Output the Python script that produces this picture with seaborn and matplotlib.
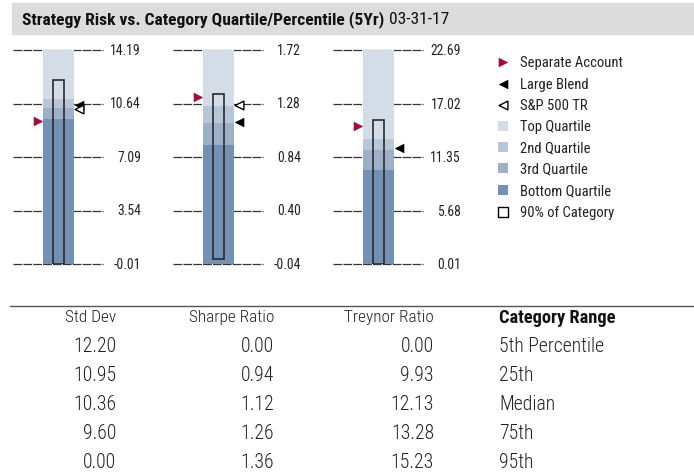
import numpy as np
import pandas as pd
import matplotlib
matplotlib.use("Agg")
import matplotlib.pyplot as plt
import seaborn as sns
from matplotlib import font_manager as fm
from matplotlib.patches import Rectangle

# --- data ------------------------------------------------------------------
metrics = ["Std Dev", "Sharpe Ratio", "Treynor Ratio"]
axis_ticks = [
    [-0.01, 3.54, 7.09, 10.64, 14.19],
    [-0.04, 0.40, 0.84, 1.28, 1.72],
    [0.01, 5.68, 11.35, 17.02, 22.69],
]
pct_5th = [12.20, 0.00, 0.00]
pct_25th = [10.95, 0.94, 9.93]
pct_median = [10.36, 1.12, 12.13]
pct_75th = [9.60, 1.26, 13.28]
pct_95th = [0.00, 1.36, 15.23]
separate_account = [9.46, 1.33, 14.64]
large_blend = [10.52, 1.13, 12.27]
sp500_tr = [10.25, 1.27, np.nan]
range_labels = ["5th Percentile", "25th", "Median", "75th", "95th"]

# colours
quartile_colors = ["#7391B4", "#9EB0C8", "#B9C6D7", "#D4DCE7"]  # bottom -> top
quartile_names = ["Bottom Quartile", "3rd Quartile", "2nd Quartile", "Top Quartile"]
red = "#A50B3C"

# --- font: prefer something condensed like the original -------------------
names = {f.name for f in fm.fontManager.ttflist}
STRETCH = "normal"
if "Roboto Condensed" in names:
    FAMILY = "Roboto Condensed"
elif "Liberation Sans Narrow" in names:
    FAMILY = "Liberation Sans Narrow"
elif any(f.name == "DejaVu Sans" and f.stretch == "condensed" for f in fm.fontManager.ttflist):
    FAMILY = "DejaVu Sans"
    STRETCH = "condensed"
else:
    FAMILY = "Liberation Sans"

sns.set_theme(style="white")
plt.rcParams["font.family"] = [FAMILY, "DejaVu Sans"]
plt.rcParams["font.stretch"] = STRETCH
TXT = "#222222"

W, H = 694, 477
fig = plt.figure(figsize=(W / 100, H / 100), dpi=100)


def px_axes(left, top, width, height):
    return fig.add_axes([left / W, 1 - (top + height) / H, width / W, height / H])


markers = pd.DataFrame({
    "metric": metrics,
    "Separate Account": separate_account,
    "Large Blend": large_blend,
    "S&P 500 TR": sp500_tr,
})

for i, m in enumerate(metrics):
    ax = px_axes(13 + 160 * i, 51, 90, 214)
    lo, hi = axis_ticks[i][0], axis_ticks[i][-1]
    ax.set_xlim(0, 90)
    ax.set_ylim(lo, hi)
    ax.axis("off")

    # dashed gridlines + tick labels on the right
    for t in axis_ticks[i]:
        ax.axhline(t, color="#333333", lw=0.9, dashes=(7, 0.9), zorder=1, clip_on=False)
        ax.text(128, t, f"{t:.2f}", ha="right", va="center", fontsize=9.8,
                color=TXT, clip_on=False)

    # quartile bands
    b = sorted([pct_25th[i], pct_median[i], pct_75th[i]])
    bounds = [lo] + b + [hi]
    for k in range(4):
        ax.bar(45, bounds[k + 1] - bounds[k], bottom=bounds[k], width=31,
               color=quartile_colors[k], linewidth=0, zorder=2)

    # 90% of category box
    p_lo, p_hi = sorted([pct_5th[i], pct_95th[i]])
    ax.bar(45, p_hi - p_lo, bottom=p_lo, width=11, fill=False,
           edgecolor="#2a2a2a", linewidth=1.2, zorder=3)

    row = markers[markers["metric"] == m]
    sns.scatterplot(x=[24.5], y=row["Separate Account"], marker=">", s=48,
                    color=red, linewidth=0, ax=ax, legend=False, zorder=5, clip_on=False)
    sns.scatterplot(x=[66], y=row["Large Blend"], marker="<", s=48,
                    color="black", linewidth=0, ax=ax, legend=False, zorder=5, clip_on=False)
    if row["S&P 500 TR"].notna().all():
        sns.scatterplot(x=[66], y=row["S&P 500 TR"], marker="<", s=40,
                        color="white", edgecolor="black", linewidth=1, ax=ax,
                        legend=False, zorder=5, clip_on=False)

# --- overlay in pixel coordinates: title, legend, table -------------------
ov = fig.add_axes([0, 0, 1, 1])
ov.set_xlim(0, W)
ov.set_ylim(H, 0)
ov.axis("off")
ov.patch.set_alpha(0)

ov.add_patch(Rectangle((12, 4), W - 12, 31, color="#DCDCDC", zorder=0))
t1 = ov.text(22, 20, "Strategy Risk vs. Category Quartile/Percentile (5Yr)",
             fontsize=12.6, fontweight="bold", ha="left", va="center", color="#111111")
fig.canvas.draw()
bb = t1.get_window_extent().transformed(ov.transData.inverted())
ov.text(bb.x1 + 5, 20, "03-31-17", fontsize=12.6, ha="left", va="center", color="#111111")

# legend
leg_y = [63, 85, 106, 127, 148, 169, 191, 213]
leg_labels = ["Separate Account", "Large Blend", "S&P 500 TR"] + quartile_names[::-1] + ["90% of Category"]
ov.scatter(503, leg_y[0], marker=">", s=48, color=red, linewidth=0)
ov.scatter(503, leg_y[1], marker="<", s=48, color="black", linewidth=0)
ov.scatter(503, leg_y[2], marker="<", s=40, facecolor="white", edgecolor="black", linewidth=1)
for k, c in enumerate(quartile_colors[::-1]):
    ov.scatter(503, leg_y[3 + k], marker="s", s=62, color=c, linewidth=0)
ov.scatter(503, leg_y[7], marker="s", s=55, facecolor="white", edgecolor="black", linewidth=1)
for y, lab in zip(leg_y, leg_labels):
    ov.text(520, y, lab, fontsize=10.5, ha="left", va="center", color=TXT)

# table
ov.plot([10, W], [307, 307], color="#555555", lw=1)
col_right = [116, 274, 434]
for j, m in enumerate(metrics):
    ov.text(col_right[j], 318, m, fontsize=12.4, fontweight="light", ha="right",
            va="center", color=TXT)
ov.text(499, 318, "Category Range", fontsize=13.2, fontweight="bold", ha="left",
        va="center", color="#111111")
table = [pct_5th, pct_25th, pct_median, pct_75th, pct_95th]
for r, vals in enumerate(table):
    y = 347 + 29 * r
    for j in range(3):
        ov.text(col_right[j], y, f"{vals[j]:.2f}", fontsize=14.2, fontweight="light",
                ha="right", va="center", color=TXT)
    ov.text(499, y, range_labels[r], fontsize=14.2, fontweight="light", ha="left",
            va="center", color=TXT)

fig.savefig("out.png", dpi=100)
